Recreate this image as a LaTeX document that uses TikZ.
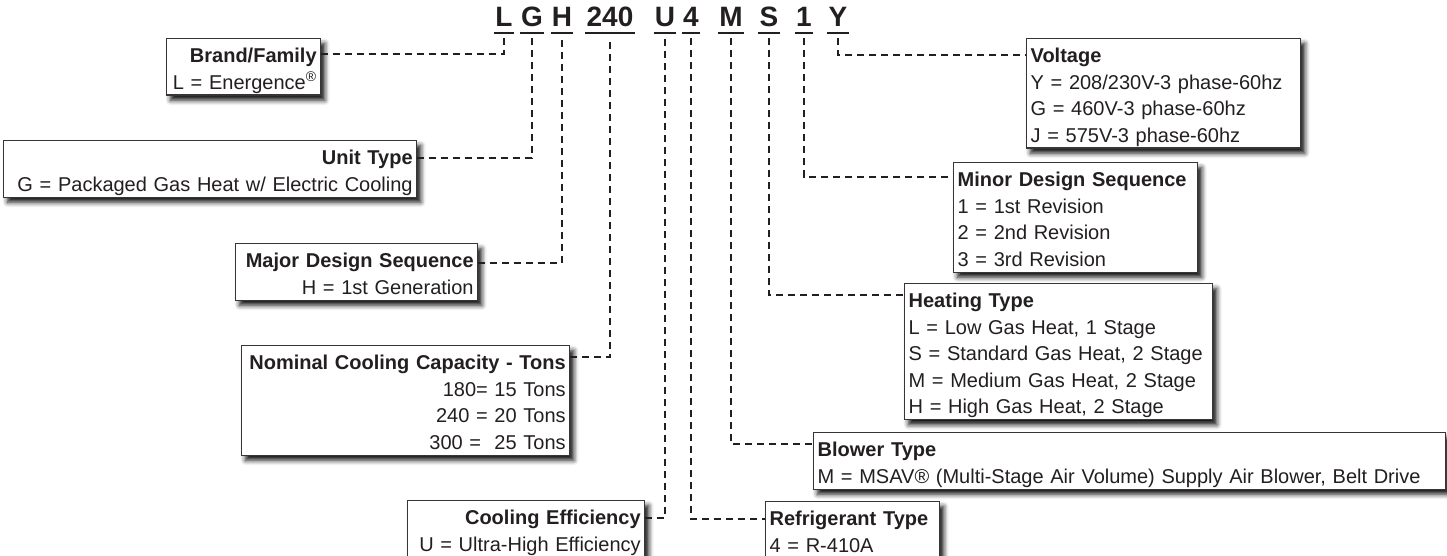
\documentclass[tikz,border=0pt]{standalone}
\usepackage{fontspec}
\setmainfont{Liberation Sans}
\usetikzlibrary{shadows.blur}
\definecolor{ink}{HTML}{231F20}

\begin{document}
\begin{tikzpicture}[x=1pt,y=-1pt,
    code/.style={font=\fontsize{28}{28}\selectfont\bfseries,text=ink,
        inner xsep=1pt,inner ysep=0pt,text height=20pt,text depth=0pt,anchor=base},
    uline/.style={ink,line width=2.4pt},
    infobox/.style={draw=ink!90,line width=1.3pt,fill=white,anchor=north west,
        inner xsep=4pt,inner ysep=0pt,text=ink,
        font=\fontsize{20}{26.5}\selectfont,
        execute at begin node={\hyphenpenalty=10000\rule{0pt}{24pt}},
        execute at end node=\rule[-6pt]{0pt}{0pt},
        blur shadow={shadow xshift=4pt,shadow yshift=-5pt,
            shadow blur radius=5pt,shadow opacity=95}},
    link/.style={ink,line width=2pt,dash pattern=on 7pt off 5pt}]
\useasboundingbox (0,0) rectangle (1447,556);

% model number
\foreach \n/\x in {L/504,G/532,H/562,240/610,U/665,4/691,M/731,S/769,1/804,Y/838}
{
    \node[code] (c\n) at (\x,27) {\n};
    \draw[uline] ([yshift=-6pt]c\n.south west) -- ([yshift=-6pt]c\n.south east);
}

% left side
\node[infobox,align=right,text width=146pt] (brand) at (166,38)
    {\textbf{Brand/Family}\\L = Energence\textsuperscript{®}};
\node[infobox,align=right,text width=405pt] (unit) at (3,140)
    {\textbf{Unit Type}\\G = Packaged Gas Heat w/ Electric Cooling};
\node[infobox,align=right,text width=234pt] (major) at (235,243)
    {\textbf{Major Design Sequence}\\H = 1st Generation};
\node[infobox,align=right,text width=320pt] (nominal) at (241,345)
    {\textbf{Nominal Cooling Capacity - Tons}\\180= 15 Tons\\240 = 20 Tons\\300 =~ 25 Tons};
\node[infobox,align=right,text width=229pt] (cooling) at (407,500)
    {\textbf{Cooling Efficiency}\\U = Ultra-High Efficiency};

% right side
\node[infobox,align=left,text width=266pt] (voltage) at (1026,38)
    {\textbf{Voltage}\\Y = 208/230V-3 phase-60hz\\G = 460V-3 phase-60hz\\J = 575V-3 phase-60hz};
\node[infobox,align=left,text width=236pt] (minor) at (953,162)
    {\textbf{Minor Design Sequence}\\1 = 1st Revision\\2 = 2nd Revision\\3 = 3rd Revision};
\node[infobox,align=left,text width=300pt] (heating) at (904,283)
    {\textbf{Heating Type}\\L = Low Gas Heat, 1 Stage\\S = Standard Gas Heat, 2 Stage\\M = Medium Gas Heat, 2 Stage\\H = High Gas Heat, 2 Stage};
\node[infobox,align=left,text width=624pt] (blower) at (813,432)
    {\textbf{Blower Type}\\M = MSAV® (Multi-Stage Air Volume) Supply Air Blower, Belt Drive};
\node[infobox,align=left,text width=166pt] (refrig) at (765,501)
    {\textbf{Refrigerant Type}\\4 = R-410A};

% leaders
\draw[link] ([yshift=-16pt]brand.north east) -| ([yshift=-11pt]cL.south);
\draw[link] ([yshift=-18pt]unit.north east) -| ([yshift=-11pt]cG.south);
\draw[link] ([yshift=-20pt]major.north east) -| ([yshift=-11pt]cH.south);
\draw[link] ([yshift=-12pt]nominal.north east) -| ([yshift=-11pt]c240.south);
\draw[link] ([yshift=-18pt]cooling.north east) -| ([yshift=-11pt]cU.south);
\draw[link] ([yshift=-11pt]c4.south) |- ([yshift=-18pt]refrig.north west);
\draw[link] ([yshift=-11pt]cM.south) |- ([yshift=-12pt]blower.north west);
\draw[link] ([yshift=-11pt]cS.south) |- ([yshift=-12pt]heating.north west);
\draw[link] ([yshift=-11pt]c1.south) |- ([yshift=-15pt]minor.north west);
\draw[link] ([yshift=-11pt]cY.south) |- ([yshift=-17pt]voltage.north west);
\end{tikzpicture}
\end{document}
